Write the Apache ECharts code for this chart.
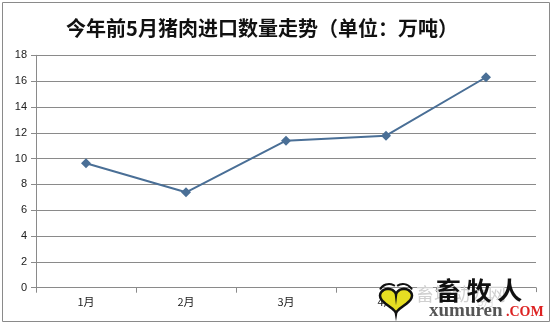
<!DOCTYPE html>
<html><head><meta charset="utf-8">
<script src="https://cdn.jsdelivr.net/npm/echarts@6/dist/echarts.min.js"></script>
<style>html,body{margin:0;padding:0;background:#fff}#c{width:552px;height:325px}</style>
</head><body><div id="c"></div>
<script>
var categories = ['1月','2月','3月','4月','5月'];
var values = [9.64, 7.39, 11.39, 11.77, 16.3];
var yTicks = [0,2,4,6,8,10,12,14,16,18];
var titleText = '今年前5月猪肉进口数量走势（单位：万吨）';

// heart outline for the watermark logo (decoration only)
var heartPts = [];
for (var i = 0; i < 48; i++) {
  var t = i / 48 * Math.PI * 2;
  var hx = 16 * Math.pow(Math.sin(t), 3);
  var hy = 13 * Math.cos(t) - 5 * Math.cos(2 * t) - 2 * Math.cos(3 * t) - Math.cos(4 * t);
  heartPts.push([396 + hx, 299 - hy * 0.85]);
}

var chart = echarts.init(document.getElementById('c'));
chart.setOption({
  animation: false,
  backgroundColor: '#fff',
  title: {
    text: titleText, left: 257, top: 13, textAlign: 'center',
    textStyle: {fontFamily: 'Noto Sans CJK SC', fontWeight: 'bold', fontSize: 20, color: '#111'}
  },
  grid: {left: 36, right: 16, top: 55.3, bottom: 37.3, containLabel: false},
  xAxis: {
    type: 'category', data: categories, boundaryGap: true,
    axisLine: {lineStyle: {color: '#8a8a8a', width: 1}},
    axisTick: {show: true, length: 5, lineStyle: {color: '#8a8a8a'}},
    axisLabel: {color: '#222', fontSize: 11, margin: 9, fontFamily: 'Noto Sans CJK SC'},
    splitLine: {show: false}
  },
  yAxis: {
    type: 'value', min: 0, max: 18, interval: 2,
    axisLine: {show: true, lineStyle: {color: '#8a8a8a', width: 1}},
    axisTick: {show: true, length: 5, lineStyle: {color: '#8a8a8a'}},
    axisLabel: {color: '#222', fontSize: 11, margin: 9, fontFamily: 'Liberation Sans',
      formatter: function(v){ return yTicks.indexOf(v) >= 0 ? String(v) : ''; }},
    splitLine: {lineStyle: {color: '#8a8a8a', width: 1}}
  },
  series: [{
    type: 'line', data: values,
    symbol: 'diamond', symbolSize: 10,
    lineStyle: {color: '#4a6f96', width: 2},
    itemStyle: {color: '#4a6f96'}
  }],
  graphic: [
    {type: 'rect', shape: {x: 2.5, y: 2.5, width: 547, height: 319}, style: {fill: 'none', stroke: '#8a8a8a', lineWidth: 1}, z: 100},
    {type: 'rect', shape: {x: 418, y: 292, width: 124, height: 26}, style: {fill: 'rgba(255,255,255,0.85)'}, z: 100},
    {type: 'text', x: 416, y: 285, style: {text: '畜场动力网', font: '18px "Noto Sans CJK SC"', fill: '#d0d0d0'}, z: 101},
    {type: 'text', x: 436, y: 278, style: {text: '畜 牧 人', font: 'bold 25px "Noto Sans CJK SC"', fill: '#111'}, z: 102},
    {type: 'text', x: 429, y: 302, style: {text: 'xumuren', font: 'bold 19px "Liberation Serif"', fill: '#555'}, z: 102},
    {type: 'text', x: 506, y: 305, style: {text: '.COM', font: 'bold 14px "Liberation Serif"', fill: '#d22'}, z: 102},
    {type: 'polygon', shape: {points: heartPts}, style: {fill: '#e6de22', stroke: '#111', lineWidth: 2.5}, z: 102},
    {type: 'arc', shape: {cx: 389, cy: 294, r: 10, startAngle: Math.PI * 1.15, endAngle: Math.PI * 1.7}, style: {fill: 'none', stroke: '#111', lineWidth: 2}, z: 102},
    {type: 'arc', shape: {cx: 403, cy: 294, r: 10, startAngle: Math.PI * 1.3, endAngle: Math.PI * 1.85}, style: {fill: 'none', stroke: '#111', lineWidth: 2}, z: 102}
  ]
});
</script></body></html>
